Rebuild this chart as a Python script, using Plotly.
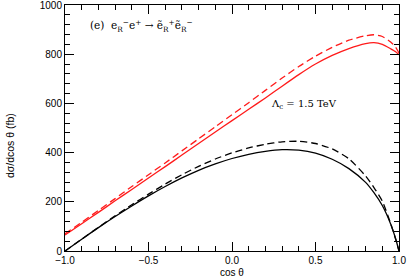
import plotly.graph_objects as go

cos_theta = [-1.0, -0.9, -0.8, -0.7, -0.6, -0.5, -0.4, -0.3, -0.2, -0.1, 0.0,
             0.1, 0.2, 0.3, 0.4, 0.5, 0.6, 0.7, 0.8, 0.85, 0.9, 0.95, 0.98, 1.0]

red_solid = [65, 111, 157, 204, 250, 297, 343, 390, 437, 484, 530,
             576, 622, 670, 717, 760, 795, 823, 843, 847, 840, 822, 810, 798]
red_dashed = [70, 117, 165, 213, 262, 310, 358, 407, 456, 505, 554,
              603, 653, 703, 750, 792, 828, 857, 875, 879, 872, 850, 828, 805]
black_solid = [0, 48, 95, 140, 183, 224, 262, 297, 328, 354, 376,
               393, 405, 412, 410, 398, 373, 335, 279, 237, 185, 110, 50, 0]
black_dashed = [0, 48, 96, 143, 188, 231, 272, 310, 344, 374, 399,
                419, 434, 444, 446, 437, 415, 375, 305, 258, 203, 112, 48, 0]

x_ticks = [-1.0, -0.5, 0.0, 0.5, 1.0]
x_ticklabels = ["\u22121.0", "\u22120.5", "0.0", "0.5", "1.0"]
y_ticks = [0, 200, 400, 600, 800, 1000]
y_ticklabels = ["0", "200", "400", "600", "800", "1000"]

fig = go.Figure()
series = [
    (red_solid, "#ff1a1a", "solid"),
    (red_dashed, "#ff1a1a", "7px,4px"),
    (black_solid, "black", "solid"),
    (black_dashed, "black", "7px,4px"),
]
for ys, col, dash in series:
    fig.add_trace(go.Scatter(x=cos_theta, y=ys, mode="lines",
                             line=dict(color=col, width=1.3, dash=dash, shape="spline", smoothing=0.6),
                             showlegend=False, hoverinfo="skip", cliponaxis=True))

axis_font = dict(family="Liberation Sans", size=10, color="black")
fig.update_xaxes(range=[-1.0, 1.0], tickvals=x_ticks, ticktext=x_ticklabels,
                 ticks="inside", ticklen=9, tickwidth=1, tickcolor="black",
                 showline=True, linecolor="black", linewidth=1, mirror="ticks",
                 showgrid=False, zeroline=False, tickfont=axis_font, automargin=False,
                 ticklabeloverflow="allow",
                 minor=dict(dtick=0.1, ticks="inside", ticklen=5, tickcolor="black", showgrid=False))
fig.update_yaxes(range=[0, 1000.01], tickvals=y_ticks, ticktext=y_ticklabels,
                 ticks="inside", ticklen=9, tickwidth=1, tickcolor="black",
                 showline=True, linecolor="black", linewidth=1, mirror="ticks",
                 showgrid=False, zeroline=False, tickfont=axis_font, automargin=False,
                 ticklabeloverflow="allow",
                 minor=dict(dtick=40, ticks="inside", ticklen=5, tickcolor="black", showgrid=False))

fig.add_annotation(x=0.5, y=-0.088, xref="paper", yref="paper", xanchor="center", yanchor="middle",
                   text="cos \u03b8", showarrow=False,
                   font=dict(family="Liberation Sans", size=10, color="black"))
fig.add_annotation(x=-0.165, y=0.43, xref="paper", yref="paper", xanchor="center", yanchor="middle",
                   text="d\u03c3/dcos \u03b8 (fb)", textangle=-90, showarrow=False,
                   font=dict(family="Liberation Sans", size=10.5, color="black"))

fig.add_annotation(x=0.07, y=0.915, xref="paper", yref="paper", xanchor="left", yanchor="middle",
                   text="(e)  e<sub>R</sub><sup>\u2212</sup>e<sup>+</sup> \u2192 \u1ebd<sub>R</sub><sup>+</sup>\u1ebd<sub>R</sub><sup>\u2212</sup>",
                   showarrow=False, font=dict(family="DejaVu Serif", size=10.5, color="black"))
fig.add_annotation(x=0.61, y=0.595, xref="paper", yref="paper", xanchor="left", yanchor="middle",
                   text="\u039b<sub>c</sub> = 1.5 TeV",
                   showarrow=False, font=dict(family="DejaVu Serif", size=10, color="black"))

fig.update_layout(width=408, height=278, margin=dict(l=65, r=9, t=5, b=27),
                  plot_bgcolor="white", paper_bgcolor="white")
fig.write_html("out.html", config={"displayModeBar": False},
               post_script="document.body.style.margin='0';document.body.style.padding='0';document.body.style.overflow='hidden';")
